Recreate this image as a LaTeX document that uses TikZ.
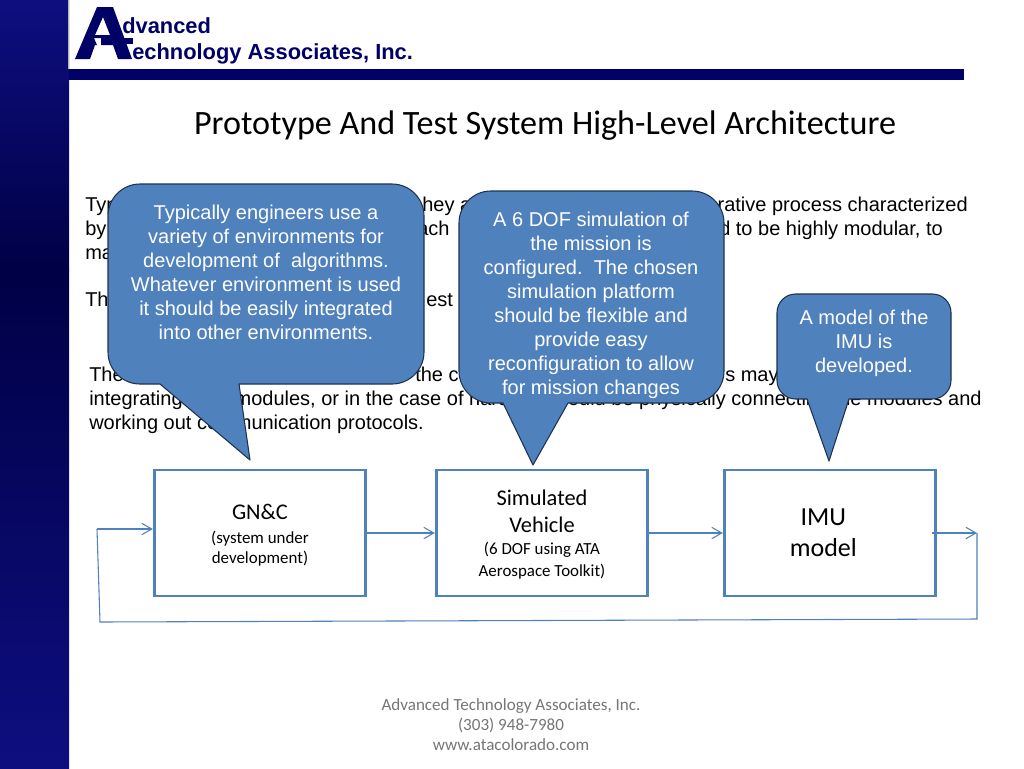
\documentclass[tikz,border=0pt]{standalone}
\usepackage{fontspec}
\setmainfont{Liberation Sans}
\newfontfamily\calibrifont{Carlito}
\usetikzlibrary{positioning,calc,arrows.meta}
\definecolor{navy}{RGB}{0,0,102}
\definecolor{sidetop}{RGB}{14,14,128}
\definecolor{sidedark}{RGB}{0,0,70}
\definecolor{bubble}{RGB}{79,129,189}
\definecolor{bubbleedge}{RGB}{30,50,80}
\definecolor{boxblue}{RGB}{79,129,189}
\definecolor{footgray}{RGB}{118,118,118}
\tikzset{
  body/.style={font=\fontsize{15}{18}\selectfont,inner sep=0pt,anchor=base west},
  bodyright/.style={body,anchor=base east},
  logotext/.style={font=\fontsize{16.4}{20}\bfseries\selectfont,text=navy,inner sep=0pt,anchor=base west},
  callout/.style={draw=bubbleedge,fill=bubble,line width=0.8pt,line join=round},
  callouttext/.style={font=\fontsize{15}{18}\selectfont,text=white,align=center,inner sep=0pt},
  stagebox/.style={draw=boxblue,line width=2.2pt,minimum width=158.5pt,minimum height=94.5pt,inner sep=0pt,align=center,font=\calibrifont},
  flow/.style={draw=boxblue,line width=0.8pt},
  flowarrow/.style={flow,-{Straight Barb[length=7.5pt,width=8.5pt]}},
}
\newcommand{\bigline}{\fontsize{16.8}{20}\selectfont}
\newcommand{\smallline}{\fontsize{12.7}{15.5}\selectfont}
\begin{document}
\begin{tikzpicture}[x=0.75pt,y=-0.75pt]
  \useasboundingbox (0,0) rectangle (1024,768);
  % sidebar and header
  \fill[white] (0,0) rectangle (1024,768);
  \shade[top color=sidetop,bottom color=sidedark] (0,0) rectangle (69,270);
  \shade[top color=sidedark,bottom color=sidetop] (0,270) rectangle (69,768);
  \fill[navy] (69,69) rectangle (964,80);
  \draw[gray!60,line width=0.5pt] (68.5,0) -- (68.5,69);
  % logo
  \fill[navy,even odd rule] (75,59) -- (97,7) -- (113,7) -- (132,59) -- (118,59) -- (113,45) -- (101,45) -- (101,38) -- (94,38) -- (97,45) -- (95,45) -- (90,59) -- cycle
     (95,35) -- (103,17) -- (110,35) -- cycle;
  \fill[navy] (103,38) rectangle (133,44);
  \node[logotext] (logoone) at (122,33) {dvanced};
  \node[logotext] (logotwo) at (132,59) {echnology Associates, Inc.};
  \node[font=\calibrifont\fontsize{25.6}{28}\selectfont,inner sep=0pt] (title) at (545,126) {Prototype And Test System High-Level Architecture};
  % paragraph text
  \node[body] (rowa) at (85,211) {Typ};
  \node[body] (rowb) at (422,211) {hey a};
  \node[bodyright] (rowc) at (968,211) {iterative process characterized};
  \node[body] (rowd) at (85,235) {by};
  \node[body] (rowe) at (417,235) {ach};
  \node[bodyright] (rowf) at (943,235) {ed to be highly modular, to};
  \node[body] (rowg) at (85,259) {ma};
  \node[body] (rowh) at (85,306) {Th};
  \node[body] (rowi) at (426,306) {est};
  \node[body] (rowj) at (89,381) {The};
  \node[body] (rowk) at (415,381) {the c};
  \node[body] (rowl) at (725,381) {s may};
  \node[body] (rowm) at (89,405) {integrating};
  \node[bodyright] (rown) at (982,405) {modules, or in the case of hardware could be physically connecting the modules and};
  \node[body] (rowo) at (89,429) {working out communication protocols.};
  % callouts
  \draw[callout,rounded corners=24pt] (108,300) -- (108,184) -- (424,184) -- (424,384) -- (300,384) [sharp corners] -- (239,384) -- (250,460) -- (160,384) -- (150,384) [rounded corners=24pt] -- (108,384) -- cycle;
  \draw[callout,rounded corners=24pt] (459,300) -- (459,191) -- (724,191) -- (724,403) -- (620,403) [sharp corners] -- (568,403) -- (533,465) -- (503,403) -- (495,403) [rounded corners=24pt] -- (459,403) -- cycle;
  \draw[callout,rounded corners=14pt] (777,350) -- (777,294) -- (951,294) -- (951,399) -- (900,399) [sharp corners] -- (849,399) -- (829,461) -- (807,399) -- (800,399) [rounded corners=14pt] -- (777,399) -- cycle;
  \node[callouttext] (notegnc) at (266,272) {Typically engineers use a\\variety of environments for\\development of~~algorithms.\\Whatever environment is used\\it should be easily integrated\\into other environments.};
  \node[callouttext] (notesim) at (591,305) {A 6 DOF simulation of\\the mission is\\configured.~~The chosen\\simulation platform\\should be flexible and\\provide easy\\reconfiguration to allow\\for mission changes};
  \node[callouttext] (noteimu) at (864,343) {A model of the\\IMU is\\developed.};
  % blocks
  \node[stagebox] (gnc) at (260,533) {\rule{0pt}{15pt}\bigline GN\&C\\[6pt]\smallline (system under\\[3pt]\smallline development)};
  \node[stagebox] (sim) at (542,533) {\rule{0pt}{14pt}\bigline Simulated\\[8pt]\bigline Vehicle\\[5pt]\smallline (6 DOF using ATA\\[4pt]\smallline Aerospace Toolkit)};
  \node[stagebox,font=\calibrifont\fontsize{19.5}{23.5}\selectfont] (imu) at (830,533) {IMU\hspace*{10pt}\\model\hspace*{10pt}};
  % footer
  \node[font=\calibrifont\fontsize{12.8}{15}\selectfont,text=footgray,align=center,inner sep=0pt] (foot) at (511,725) {Advanced Technology Associates, Inc.\\(303) 948-7980\\www.atacolorado.com};
  % connectors
  \coordinate (inleft) at (97,529);
  \coordinate (backleft) at (100,622);
  \coordinate (backright) at (977,619);
  \coordinate (outstart) at (932,533);
  \coordinate (outend) at (977,533);
  \draw[flowarrow] (inleft) -- (gnc.west |- inleft);
  \draw[flowarrow] (gnc) -- (sim);
  \draw[flowarrow] (sim) -- (imu);
  \draw[flowarrow] (outstart) -- (outend);
  \draw[flow] (outend) -- (backright) -- (backleft) -- (inleft);
\end{tikzpicture}
\end{document}
